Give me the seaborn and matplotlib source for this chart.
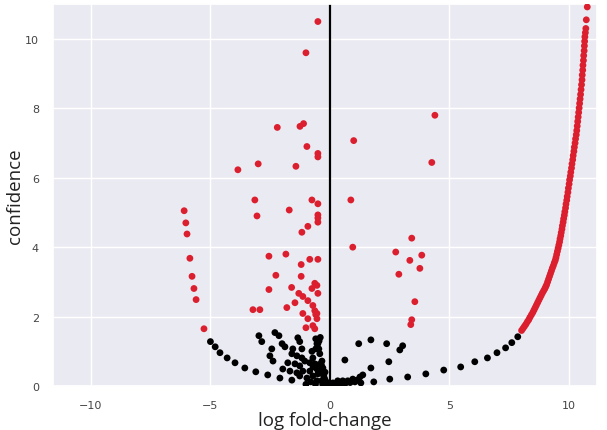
import pandas as pd
import matplotlib.pyplot as plt
import seaborn as sns

# 显著点（红）：左侧 + 中间散点
sig_x = [-6.10, -6.03, -5.98, -5.86, -5.77, -5.69, -5.60, -5.27,
         -0.50, -1.00, -2.20, -1.25, -1.10, -0.96, -0.50, -0.50, -3.00, -3.85, -1.42,
         -3.14, -3.05, -1.70, -0.75, -0.50, -0.50, -0.50, -0.50, -0.92, -1.17,
         -2.55, -1.84, -0.84, -0.50, -1.20, -2.26, -1.20, -2.55, -1.60, -0.63, -0.54,
         -0.75, -0.50, -1.30, -1.13, -1.46, -0.92, -1.80, -3.22, -2.93, -0.71, -0.63,
         -0.54, -1.13, -0.92, -0.54, -0.59, -1.00, -0.63, -0.71,
         1.00, 4.40, 4.27, 0.88, 0.96, 3.43, 2.76, 3.35, 3.85, 3.77, 2.89, 3.56, 3.43, 3.39]
sig_y = [5.05, 4.70, 4.38, 3.68, 3.16, 2.81, 2.49, 1.65,
         10.50, 9.60, 7.45, 7.48, 7.56, 6.90, 6.70, 6.60, 6.40, 6.23, 6.33,
         5.36, 4.90, 5.07, 5.36, 5.25, 4.93, 4.84, 4.72, 4.60, 4.43,
         3.74, 3.80, 3.65, 3.65, 3.50, 3.19, 3.16, 2.78, 2.84, 2.96, 2.90,
         2.81, 2.67, 2.67, 2.58, 2.40, 2.46, 2.26, 2.20, 2.20, 2.32, 2.17,
         2.09, 2.09, 1.94, 1.94, 2.06, 1.68, 1.65, 1.74,
         7.07, 7.80, 6.44, 5.36, 4.00, 4.26, 3.86, 3.62, 3.77, 3.39, 3.22, 2.43, 1.91, 1.77]

# 右侧红色曲线
curve_x = [8.03, 8.09, 8.15, 8.21, 8.27, 8.33, 8.38, 8.44, 8.50, 8.55, 8.60, 8.65,
           8.70, 8.75, 8.80, 8.85, 8.90, 8.95, 9.00, 9.04, 9.08, 9.12, 9.16, 9.20,
           9.24, 9.28, 9.32, 9.36, 9.40, 9.44, 9.47, 9.50, 9.53, 9.56, 9.59, 9.62,
           9.64, 9.67, 9.69, 9.72, 9.74, 9.77, 9.79, 9.82, 9.84, 9.87, 9.89, 9.92,
           9.94, 9.97, 9.99, 10.02, 10.04, 10.07, 10.09, 10.12, 10.14, 10.17, 10.19,
           10.22, 10.24, 10.27, 10.29, 10.32, 10.34, 10.36, 10.38, 10.40, 10.42, 10.44,
           10.46, 10.48, 10.50, 10.52, 10.54, 10.56, 10.57, 10.59, 10.60, 10.62, 10.63,
           10.65, 10.66, 10.67, 10.68, 10.70, 10.72, 10.74, 10.78]
curve_y = [1.60, 1.66, 1.72, 1.78, 1.85, 1.91, 1.98, 2.05, 2.12, 2.19, 2.26, 2.33,
           2.40, 2.47, 2.54, 2.61, 2.68, 2.74, 2.80, 2.86, 2.92, 3.00, 3.08, 3.16,
           3.24, 3.32, 3.40, 3.47, 3.55, 3.62, 3.70, 3.79, 3.88, 3.97, 4.06, 4.15,
           4.24, 4.33, 4.42, 4.52, 4.62, 4.72, 4.82, 4.92, 5.02, 5.13, 5.24, 5.35,
           5.46, 5.58, 5.70, 5.82, 5.94, 6.05, 6.16, 6.28, 6.40, 6.52, 6.64,
           6.76, 6.88, 7.00, 7.12, 7.24, 7.36, 7.49, 7.62, 7.75, 7.88, 8.01,
           8.14, 8.27, 8.40, 8.54, 8.68, 8.82, 8.96, 9.10, 9.24, 9.38, 9.52,
           9.66, 9.80, 9.93, 10.06, 10.18, 10.30, 10.55, 10.92]

# 不显著点（黑）
ns_x = [-5.00, -4.80, -4.60, -4.30, -3.97, -3.56, -3.10, -2.60, -2.09,
        -2.97, -2.85, -2.30, -2.13, -1.34, -1.26, -0.59, -0.54, -0.59, -2.00, -1.88,
        -2.43, -2.51, -2.38, -1.55, -1.17, -1.59, -1.38, -1.17, -0.75, -0.71, -0.84,
        -0.63, -1.76, -1.46, -1.05, -1.26, -1.97, -1.67, -1.38, -1.13, -0.84, -0.54,
        -1.59, -1.26, -0.96, -0.71, -0.50,
        -0.42, -0.33, -0.29, -0.29, -0.21, -0.13, -0.08, 0.00, -0.50, -0.46, -0.40,
        -0.45, -0.35, -0.40, -0.25, -0.35, -0.55, -0.20, -0.15, -0.30, -0.60, -0.80,
        -1.00, -0.45, -0.70,
        0.63, 1.21, 1.72, 2.38, 2.93, 3.05, 2.47, 1.72, 1.38, 1.26, 1.30, 1.84, 2.51,
        3.26, 4.02, 4.77, 5.48, 6.07, 6.60, 7.00, 7.36, 7.62, 7.87,
        0.13, 0.33, 0.54, 0.75, 0.96, 1.13, 0.08, 0.22, 0.45, 0.65, 0.85, 1.05]
ns_y = [1.28, 1.13, 0.96, 0.81, 0.67, 0.52, 0.41, 0.32, 0.23,
        1.45, 1.28, 1.54, 1.45, 1.39, 1.28, 1.36, 1.22, 1.07, 1.22, 1.13,
        1.07, 0.87, 0.72, 1.07, 1.07, 0.93, 0.87, 0.81, 1.00, 0.81, 0.67,
        0.64, 0.67, 0.64, 0.72, 0.58, 0.49, 0.43, 0.38, 0.43, 0.43, 0.49,
        0.17, 0.29, 0.23, 0.29, 0.35,
        0.93, 0.72, 0.52, 0.35, 0.20, 0.09, 0.06, 0.00, 1.22, 1.07, 1.40,
        1.30, 0.60, 0.45, 0.28, 0.15, 0.15, 0.40, 0.12, 0.05, 0.05, 0.12,
        0.05, 0.62, 0.55,
        0.75, 1.22, 1.33, 1.22, 1.04, 1.16, 0.70, 0.52, 0.32, 0.26, 0.09, 0.12, 0.20,
        0.26, 0.35, 0.46, 0.55, 0.70, 0.81, 0.96, 1.10, 1.25, 1.42,
        0.09, 0.15, 0.15, 0.15, 0.20, 0.17, 0.03, 0.05, 0.06, 0.08, 0.10, 0.12]

all_sig_x = sig_x + curve_x
all_sig_y = sig_y + curve_y
df = pd.DataFrame({
    "logfc": ns_x + all_sig_x,
    "conf": ns_y + all_sig_y,
    "group": ["ns"] * len(ns_x) + ["sig"] * len(all_sig_x),
})

sns.set_theme(style="darkgrid")

fig = plt.figure(figsize=(6.07, 4.31), dpi=100)
ax = fig.add_axes([0.087, 0.102, 0.897, 0.886])

ax.axvline(0, color="black", lw=1.6, zorder=1)
sns.scatterplot(data=df, x="logfc", y="conf", hue="group",
                palette={"ns": "black", "sig": "#dc1f2e"},
                s=24, linewidth=0, legend=False, ax=ax, zorder=3)

ax.set_xlim(-11.6, 11.2)
ax.set_ylim(0, 11)
ax.set_xticks([-10, -5, 0, 5, 10])
ax.set_yticks([0, 2, 4, 6, 8, 10])
ax.tick_params(labelsize=8, colors="#444444", pad=4)
ax.set_xlabel("log fold-change", fontsize=13.5, family="Open Sans", color="#222222", labelpad=1)
ax.set_ylabel("confidence", fontsize=13.5, family="Open Sans", color="#222222", labelpad=1)

plt.savefig("out.png", dpi=100)
